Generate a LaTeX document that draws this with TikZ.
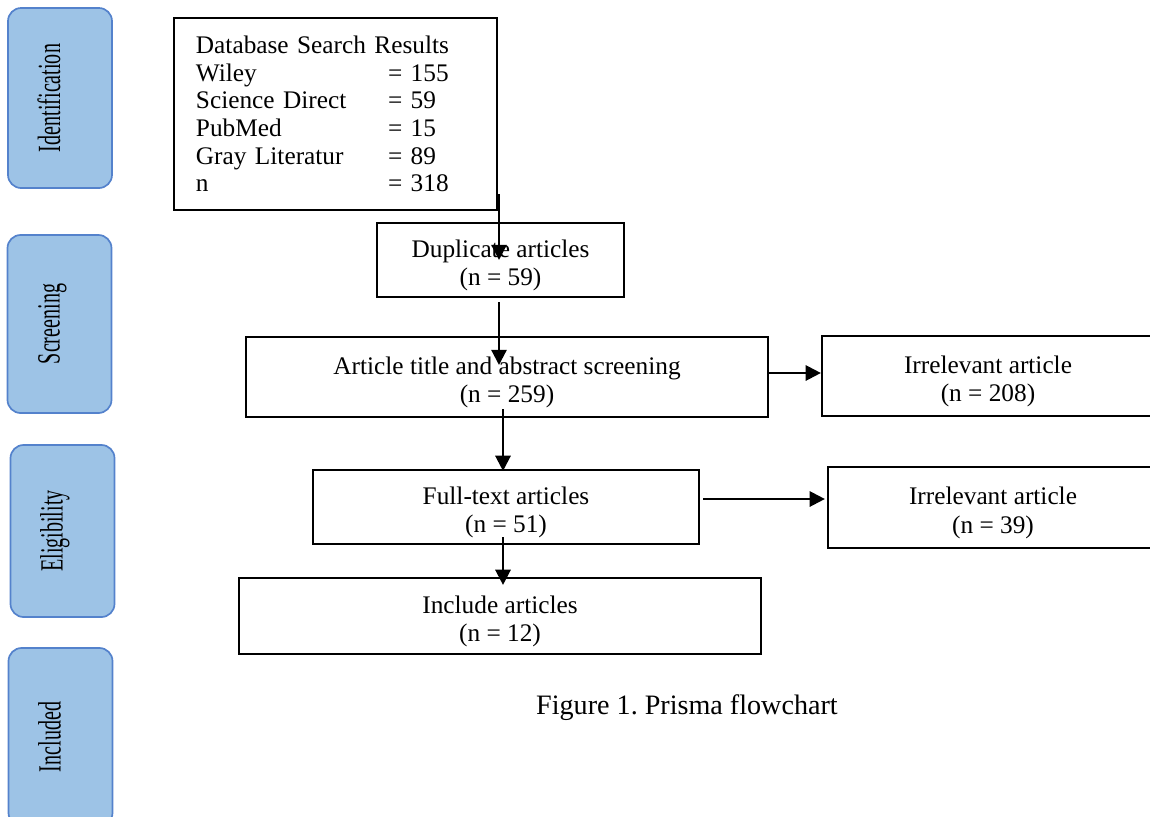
\documentclass[tikz,border=0pt]{standalone}
\usepackage{fontspec}
\setmainfont{Liberation Serif}
\frenchspacing
\usepackage{graphicx}
\usetikzlibrary{arrows.meta,calc}
\definecolor{stageblue}{RGB}{157,195,230}
\definecolor{stageedge}{RGB}{84,130,204}

\begin{document}
\begin{tikzpicture}[x=0.025cm,y=-0.025cm]
\tikzstyle{box}=[draw,line width=1.5pt,inner sep=0pt,align=center,text height=40.8pt,text depth=3.9pt,font=\fontsize{18}{20.5}\selectfont]
\tikzstyle{stage}=[draw=stageedge,fill=stageblue,line width=1.2pt,rounded corners=0.33cm,minimum width=2.6cm]
\tikzstyle{stagetext}=[rotate=90,anchor=base,inner sep=0pt,font=\fontsize{23}{23}\selectfont]
\tikzstyle{arr}=[line width=1.6pt,-{Triangle[length=0.38cm,width=0.38cm]}]
\useasboundingbox (0,0) rectangle (1150,816);
\clip (0,0) rectangle (1150,816);
% stages on the left
\node[stage,minimum height=4.5cm] (ident) at (60,98) {};
\node[stagetext] (identtxt) at (ident.center) {\scalebox{0.62}[1]{Identification}};
\node[stage,minimum height=4.45cm] (screen) at (59.5,324) {};
\node[stagetext] (screentxt) at (screen.center) {\scalebox{0.62}[1]{Screening}};
\node[stage,minimum height=4.3cm] (elig) at (62.5,531) {};
\node[stagetext] (eligtxt) at (elig.center) {\scalebox{0.62}[1]{Eligibility}};
\node[stage,minimum height=4.45cm] (incstage) at (60.5,737) {};
\node[stagetext] (incstagetxt) at (incstage.center) {\scalebox{0.62}[1]{Included}};
% flow boxes
\node[box,minimum width=8.075cm,minimum height=4.8cm,align=left,inner xsep=0.55cm,text width=6.975cm,text height=,text depth=,font=\fontsize{18}{19.7}\selectfont] (db) at (335.5,114) {Database Search Results\\
\makebox[4.8cm][l]{Wiley}= 155\\
\makebox[4.8cm][l]{Science Direct}= 59\\
\makebox[4.8cm][l]{PubMed}= 15\\
\makebox[4.8cm][l]{Gray Literatur}= 89\\
\makebox[4.8cm][l]{n}= 318};
\node[box,minimum width=6.175cm,minimum height=1.85cm] (dup) at (500.5,260) {Duplicate articles\\(n = 59)};
\node[box,minimum width=13.05cm,minimum height=2cm] (art) at (507,377) {Article title and abstract screening\\(n = 259)};
\node[box,minimum width=8.3cm,minimum height=2cm] (irr1) at (988,376) {Irrelevant article\\(n = 208)};
\node[box,minimum width=9.65cm,minimum height=1.85cm] (full) at (506,507) {Full-text articles\\(n = 51)};
\node[box,minimum width=8.25cm,minimum height=2.025cm] (irr2) at (993,507.5) {Irrelevant article\\(n = 39)};
\node[box,minimum width=13.05cm,minimum height=1.9cm] (incl) at (500,616) {Include articles\\(n = 12)};
\node[anchor=east,inner sep=0pt,font=\fontsize{20}{22}\selectfont] (cap) at (838,708) {Figure 1. Prisma flowchart};
% arrows
\draw[arr] ($(db.south -| dup.center)+(-1.5,-17)$) -- ($(dup.center)+(-1.5,0)$);
\draw[arr] ($(dup.south)+(-1.5,4)$) -- ($(dup.south |- art.center)+(-1.5,-12)$);
\draw[arr] ($(art.south -| full.north)+(-3,-9)$) -- ($(full.north)+(-3,2)$);
\draw[arr] ($(full.south)+(-3,-8)$) -- ($(full.south |- incl.north)+(-3,8)$);
\draw[arr] ($(art.east)+(0,-4)$) -- ($(art.east -| irr1.west)+(0,-4)$);
\draw[arr] ($(full.east)+(3,-8)$) -- ($(full.east -| irr2.west)+(-2,-8)$);
\end{tikzpicture}
\end{document}
